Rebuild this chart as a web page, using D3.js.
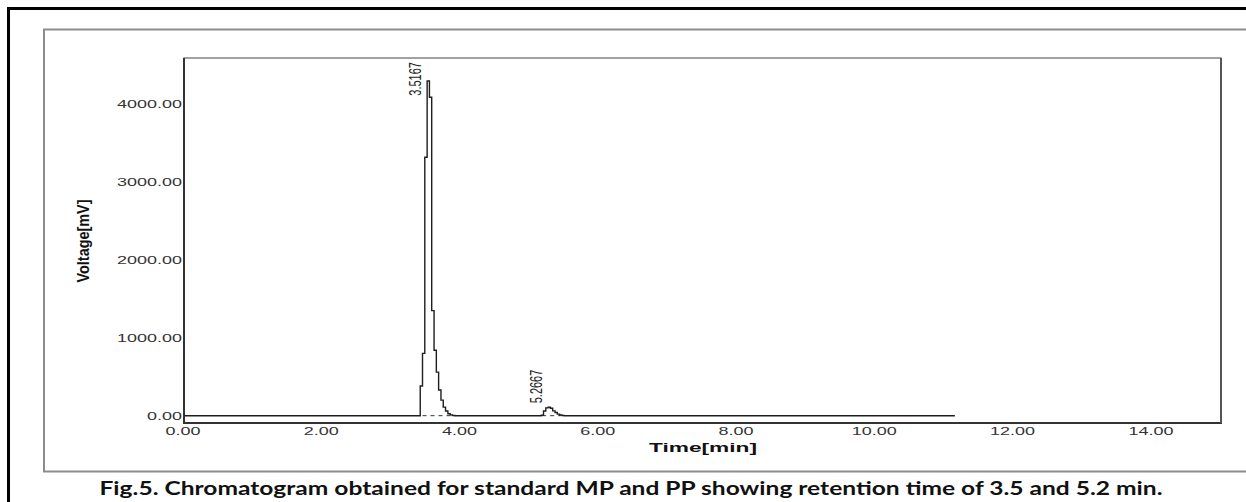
<!DOCTYPE html>
<html>
<head>
<meta charset="utf-8">
<script src="https://cdn.jsdelivr.net/npm/d3@7/dist/d3.min.js"></script>
<style>
  html, body { margin: 0; padding: 0; background: #fff; }
  svg { display: block; }
</style>
</head>
<body>
<svg id="chart" width="1246" height="502"></svg>
<script>
// Detector trace: retention time (min) and signal (mV), sampled every ~2 s around the peaks
const timeMin = [0.000, 3.383, 3.417, 3.450, 3.483, 3.517, 3.550, 3.583, 3.617, 3.650, 3.683,
                 3.717, 3.750, 3.783, 3.817, 3.850, 3.883, 3.917,
                 5.133, 5.167, 5.200, 5.233, 5.267, 5.300, 5.333, 5.367, 5.400, 5.433, 5.467, 5.500,
                 11.150];
const voltageMv = [0, 0, 382, 800, 3320, 4300, 4090, 1350, 840, 560, 330,
                   200, 110, 60, 25, 10, 3, 0,
                   0, 5, 60, 100, 108, 95, 62, 40, 20, 8, 2, 0,
                   0];

// Integrated peaks: apex retention time, label, apex height, baseline start / end
const peakTimes = [3.5167, 5.2667];
const peakLabels = ["3.5167", "5.2667"];
const peakHeights = [4300, 108];
const baseStart = [3.45, 5.18];
const baseEnd = [3.87, 5.45];

// Axis ticks
const xTicks = [0, 2, 4, 6, 8, 10, 12, 14];
const yTicks = [0, 1000, 2000, 3000, 4000];

const xTitle = "Time[min]";
const yTitle = "Voltage[mV]";
const caption = "Fig.5. Chromatogram obtained for standard MP and PP showing retention time of 3.5 and 5.2 min.";

const svg = d3.select("#chart");
const W = 1246, H = 502;
const plot = { left: 184, right: 1221, top: 58, bottom: 423 };

// Outer black frame and grey inner panel
svg.append("rect").attr("x", 8.5).attr("y", 8.5).attr("width", W + 20).attr("height", H + 20)
  .attr("fill", "none").attr("stroke", "#000").attr("stroke-width", 3);
svg.append("rect").attr("x", 44).attr("y", 29.5).attr("width", W + 20).attr("height", 442)
  .attr("fill", "none").attr("stroke", "#8c8c8c").attr("stroke-width", 2);

const x = d3.scaleLinear().domain([0, 15]).range([plot.left, plot.right]);
const y = d3.scaleLinear().domain([-94, 4595]).range([plot.bottom, plot.top]);

const fmt = d3.format(".2f");
const SX = 1.8; // wide numeric labels

// Y axis (labels only, no tick marks)
const yAxis = svg.append("g").attr("transform", `translate(${plot.left},0)`)
  .call(d3.axisLeft(y).tickValues(yTicks).tickFormat(fmt).tickSize(0).tickPadding(0));
yAxis.select(".domain").remove();
yAxis.selectAll("text")
  .attr("font-family", "Liberation Sans, Arial, sans-serif")
  .attr("font-size", 10).attr("fill", "#333")
  .attr("x", -2 / SX).attr("dy", "0.36em")
  .attr("transform", `scale(${SX},1)`);

// X axis (labels only)
const xAxis = svg.append("g").attr("transform", `translate(0,${plot.bottom})`)
  .call(d3.axisBottom(x).tickValues(xTicks).tickFormat(fmt).tickSize(0).tickPadding(0));
xAxis.select(".domain").remove();
xAxis.selectAll(".tick text")
  .attr("font-family", "Liberation Sans, Arial, sans-serif")
  .attr("font-size", 10).attr("fill", "#333")
  .attr("y", 12).attr("dy", 0).attr("x", -1.5 / SX)
  .attr("transform", `scale(${SX},1)`);
// Keep the scaled labels centred on their tick
xAxis.selectAll(".tick").each(function () {
  const t = d3.select(this).select("text");
  t.attr("text-anchor", "middle");
});

// Plot frame
svg.append("rect").attr("x", plot.left).attr("y", plot.top)
  .attr("width", plot.right - plot.left).attr("height", plot.bottom - plot.top)
  .attr("fill", "none").attr("stroke", "#444").attr("stroke-width", 1);
svg.append("line").attr("x1", plot.left).attr("x2", plot.left).attr("y1", plot.top).attr("y2", plot.bottom + 1)
  .attr("stroke", "#333").attr("stroke-width", 2);
svg.append("line").attr("x1", plot.left).attr("x2", plot.right + 1).attr("y1", plot.bottom).attr("y2", plot.bottom)
  .attr("stroke", "#333").attr("stroke-width", 2);
svg.append("line").attr("x1", plot.right).attr("x2", plot.right).attr("y1", plot.top).attr("y2", plot.bottom)
  .attr("stroke", "#555").attr("stroke-width", 2);

// Peak baselines (dashed)
peakTimes.forEach((_, i) => {
  svg.append("line")
    .attr("x1", x(baseStart[i])).attr("x2", x(baseEnd[i]))
    .attr("y1", y(0)).attr("y2", y(0))
    .attr("stroke", "#333").attr("stroke-width", 1)
    .attr("stroke-dasharray", "4,4");
});

// Chromatogram trace
const pts = timeMin.map((t, i) => [t, voltageMv[i]]);
svg.append("path").datum(pts)
  .attr("fill", "none").attr("stroke", "#1e1e1e").attr("stroke-width", 1.4)
  .attr("d", d3.line().x(d => x(d[0])).y(d => y(d[1])).curve(d3.curveStepAfter));

// Retention time labels (rotated)
peakTimes.forEach((rt, i) => {
  const g = svg.append("g");
  const txt = g.append("text")
    .attr("font-family", "Liberation Sans, Arial, sans-serif")
    .attr("font-size", 11).attr("fill", "#222")
    .attr("text-anchor", "start")
    .text(peakLabels[i]);
  const len = txt.node().getComputedTextLength();
  let yStart = y(peakHeights[i]) - 4;
  yStart = Math.max(yStart, plot.top + 4 + len);
  g.attr("transform", `translate(${x(rt) - 6},${yStart}) scale(1.45,1) rotate(-90)`);
});

// Axis titles
svg.append("text")
  .attr("x", 703).attr("y", 452)
  .attr("text-anchor", "middle")
  .attr("font-family", "Liberation Sans, Arial, sans-serif")
  .attr("font-weight", "bold").attr("font-size", 13).attr("fill", "#111")
  .attr("textLength", 108).attr("lengthAdjust", "spacingAndGlyphs")
  .text(xTitle);

svg.append("g").attr("transform", "translate(89,241) scale(1.3,1) rotate(-90)")
  .append("text")
  .attr("text-anchor", "middle")
  .attr("font-family", "Liberation Sans, Arial, sans-serif")
  .attr("font-weight", "bold").attr("font-size", 13).attr("fill", "#111")
  .attr("textLength", 83).attr("lengthAdjust", "spacingAndGlyphs")
  .text(yTitle);

// Figure caption
svg.append("text")
  .attr("x", 631).attr("y", 495)
  .attr("text-anchor", "middle")
  .attr("font-family", "Lato, 'Open Sans', sans-serif")
  .attr("font-weight", "bold").attr("font-size", 18).attr("fill", "#111")
  .attr("textLength", 1063).attr("lengthAdjust", "spacingAndGlyphs")
  .text(caption);
</script>
</body>
</html>
